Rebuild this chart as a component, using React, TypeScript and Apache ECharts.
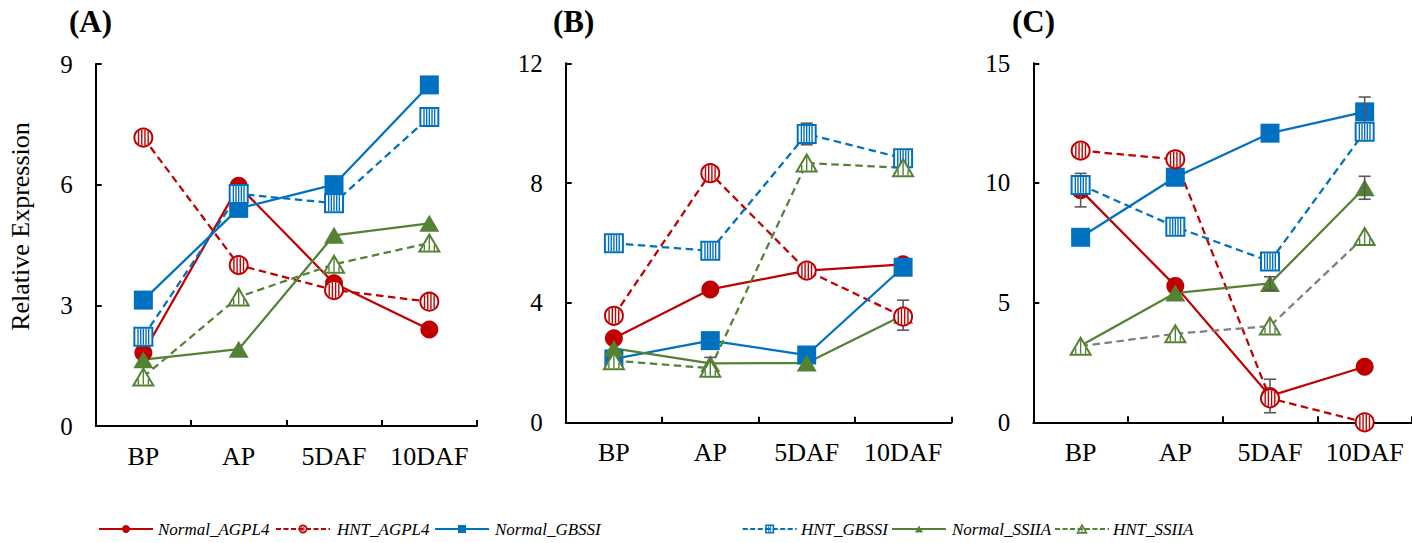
import React, { useEffect, useRef } from "react";
import * as echarts from "echarts";

// ---------- data ----------
const categories = ["BP", "AP", "5DAF", "10DAF"];
const seriesNames = ["Normal_AGPL4", "HNT_AGPL4", "Normal_GBSSI", "HNT_GBSSI", "Normal_SSIIA", "HNT_SSIIA"];
const panelTitles = ["(A)", "(B)", "(C)"];
const yMax = [9, 12, 15];
const yInterval = [3, 4, 5];

// Panel A
const aNormalAGPL4 = [1.82, 5.97, 3.55, 2.4];
const aHntAGPL4 = [7.17, 4.0, 3.38, 3.09];
const aNormalGBSSI = [3.13, 5.41, 6.0, 8.48];
const aHntGBSSI = [2.22, 5.77, 5.54, 7.68];
const aNormalSSIIA = [1.65, 1.91, 4.74, 5.04];
const aHntSSIIA = [1.22, 3.21, 4.02, 4.55];
// Panel B
const bNormalAGPL4 = [2.82, 4.45, 5.08, 5.29];
const bHntAGPL4 = [3.57, 8.33, 5.08, 3.54];
const bNormalGBSSI = [2.13, 2.74, 2.26, 5.19];
const bHntGBSSI = [5.99, 5.74, 9.64, 8.83];
const bNormalSSIIA = [2.48, 1.98, 1.99, 3.59];
const bHntSSIIA = [2.07, 1.82, 8.67, 8.51];
// Panel C
const cNormalAGPL4 = [9.7, 5.7, 1.1, 2.32];
const cHntAGPL4 = [11.35, 10.99, 1.0, 0.0];
const cNormalGBSSI = [7.73, 10.24, 12.08, 12.97];
const cHntGBSSI = [9.92, 8.17, 6.72, 12.14];
const cNormalSSIIA = [3.2, 5.4, 5.8, 9.8];
const cHntSSIIA = [3.18, 3.7, 4.02, 7.76];

// error bars (SD), 0 = not drawn
const zeroErr = [0, 0, 0, 0];
const bNormalSSIIAErr = [0, 0.2, 0, 0.5];
const bHntGBSSIErr = [0, 0, 0.36, 0];
const cNormalAGPL4Err = [0.7, 0, 0.7, 0];
const cNormalGBSSIErr = [0, 0, 0, 0.62];
const cNormalSSIIAErr = [0, 0, 0.28, 0.48];

const panelValues = [
  [aNormalAGPL4, aHntAGPL4, aNormalGBSSI, aHntGBSSI, aNormalSSIIA, aHntSSIIA],
  [bNormalAGPL4, bHntAGPL4, bNormalGBSSI, bHntGBSSI, bNormalSSIIA, bHntSSIIA],
  [cNormalAGPL4, cHntAGPL4, cNormalGBSSI, cHntGBSSI, cNormalSSIIA, cHntSSIIA],
];
const panelErrors = [
  [zeroErr, zeroErr, zeroErr, zeroErr, zeroErr, zeroErr],
  [zeroErr, zeroErr, zeroErr, bHntGBSSIErr, bNormalSSIIAErr, zeroErr],
  [cNormalAGPL4Err, zeroErr, cNormalGBSSIErr, zeroErr, cNormalSSIIAErr, zeroErr],
];

// ---------- styles ----------
const RED = "#C00000";
const BLUE = "#0070C0";
const GREEN = "#548235";
const GRAY = "#7F7F7F";
const seriesColors = [RED, RED, BLUE, BLUE, GREEN, GREEN];
const seriesShapes = ["circle", "circle", "rect", "rect", "triangle", "triangle"];
const seriesHatched = [false, true, false, true, false, true];
const FONT = "'Liberation Serif', 'Times New Roman', serif";

const grids = [
  { left: 95.7, top: 64, width: 381.3, height: 362 },
  { left: 565.7, top: 63.3, width: 385.6, height: 359.4 },
  { left: 1033.3, top: 63.3, width: 386.7, height: 359 },
];
const titlePos = [
  { x: 69, y: 23 },
  { x: 553, y: 23 },
  { x: 1012, y: 23 },
];

function hatchEls(shape: string, s: number, color: string, lw: number, sw: number, n: number) {
  const els: any[] = [];
  if (shape === "circle") {
    const r = s / 2 - lw / 2;
    els.push({ type: "circle", shape: { cx: 0, cy: 0, r }, style: { fill: "#fff", stroke: color, lineWidth: lw } });
    const ri = r - lw / 2;
    const sp = (2 * ri) / (n + 1);
    for (let k = 0; k < n; k++) {
      const dx = -ri + sp * (k + 1);
      const h = Math.sqrt(Math.max(ri * ri - dx * dx, 0));
      els.push({ type: "line", shape: { x1: dx, y1: -h, x2: dx, y2: h }, style: { stroke: color, lineWidth: sw } });
    }
  } else if (shape === "rect") {
    const half = s / 2 - lw / 2;
    els.push({
      type: "rect",
      shape: { x: -half, y: -half, width: 2 * half, height: 2 * half },
      style: { fill: "#fff", stroke: color, lineWidth: lw },
    });
    const hi = half - lw / 2;
    const sp = (2 * hi) / (n + 1);
    for (let k = 0; k < n; k++) {
      const dx = -hi + sp * (k + 1);
      els.push({ type: "line", shape: { x1: dx, y1: -hi, x2: dx, y2: hi }, style: { stroke: color, lineWidth: sw } });
    }
  } else {
    const w = s;
    const h = s * 0.85;
    els.push({
      type: "polygon",
      shape: { points: [[0, -h / 2], [w / 2, h / 2], [-w / 2, h / 2]] },
      style: { fill: "#fff", stroke: color, lineWidth: lw, lineJoin: "miter" },
    });
    const sp = w / 2 / (n + 1);
    for (let k = 0; k < n; k++) {
      const dx = -w / 4 + (n === 1 ? w / 4 : (w / 2 / (n - 1)) * k);
      const dxx = n === 1 ? 0 : dx;
      const top = -h / 2 + (Math.abs(dxx) / (w / 2)) * h + lw;
      const bot = h / 2 - lw / 2;
      if (top < bot) {
        els.push({ type: "line", shape: { x1: dxx, y1: top, x2: dxx, y2: bot }, style: { stroke: color, lineWidth: sw } });
      }
    }
    void sp;
  }
  return els;
}

function filledEls(shape: string, s: number, color: string) {
  if (shape === "circle") return [{ type: "circle", shape: { cx: 0, cy: 0, r: s / 2 }, style: { fill: color } }];
  if (shape === "rect") return [{ type: "rect", shape: { x: -s / 2, y: -s / 2, width: s, height: s }, style: { fill: color } }];
  const h = s * 0.85;
  return [{ type: "polygon", shape: { points: [[0, -h / 2], [s / 2, h / 2], [-s / 2, h / 2]] }, style: { fill: color } }];
}

// legend layout
const legendLineStart = [99, 276, 435, 742.7, 892, 1055];
const legendTextX = [158, 337, 495, 801, 952, 1113];
const LEGEND_Y = 529;

function buildOption() {
  const xAxis: any[] = [];
  const yAxis: any[] = [];
  const series: any[] = [];
  const graphic: any[] = [];

  for (let p = 0; p < 3; p++) {
    xAxis.push({
      type: "category",
      gridIndex: p,
      data: categories,
      boundaryGap: true,
      axisLine: { show: true, lineStyle: { color: "#000", width: 2 } },
      axisTick: { show: true, inside: true, length: 6, alignWithLabel: false, interval: 0, lineStyle: { color: "#000", width: 2 } },
      axisLabel: { color: "#000", fontSize: 26, fontFamily: FONT, margin: 17, interval: 0 },
      splitLine: { show: false },
    });
    yAxis.push({
      type: "value",
      gridIndex: p,
      min: 0,
      max: yMax[p],
      interval: yInterval[p],
      axisLine: { show: true, lineStyle: { color: "#000", width: 2 } },
      axisTick: { show: true, inside: true, length: 6, lineStyle: { color: "#000", width: 2 } },
      axisLabel: { color: "#000", fontSize: 25, fontFamily: FONT, margin: 23 },
      splitLine: { show: false },
    });

    // lines (+ filled markers)
    for (let s = 0; s < 6; s++) {
      const color = seriesColors[s];
      const lineColor = p === 2 && s === 5 ? GRAY : color;
      const hatched = seriesHatched[s];
      const shape = seriesShapes[s];
      series.push({
        type: "line",
        name: seriesNames[s],
        xAxisIndex: p,
        yAxisIndex: p,
        data: panelValues[p][s],
        silent: true,
        z: 2,
        lineStyle: { color: lineColor, width: 2.25, type: hatched ? [7.5, 4.5] : "solid" },
        itemStyle: { color },
        showSymbol: !hatched,
        symbol: hatched ? "none" : shape,
        symbolSize: shape === "circle" ? 18 : shape === "rect" ? 19 : [20, 17],
      });
    }
    // error bars
    for (let s = 0; s < 6; s++) {
      const errs = panelErrors[p][s];
      const vals = panelValues[p][s];
      const data: any[] = [];
      errs.forEach((e, i) => {
        if (e > 0) data.push([i, vals[i], e]);
      });
      if (!data.length) continue;
      series.push({
        type: "custom",
        xAxisIndex: p,
        yAxisIndex: p,
        silent: true,
        z: 3,
        data,
        renderItem: (params: any, api: any) => {
          const i = api.value(0);
          const v = api.value(1);
          const e = api.value(2);
          const top = api.coord([i, v + e]);
          const bot = api.coord([i, v - e]);
          const st = { stroke: "#595959", lineWidth: 1.6 };
          return {
            type: "group",
            children: [
              { type: "line", shape: { x1: top[0], y1: top[1], x2: bot[0], y2: bot[1] }, style: st },
              { type: "line", shape: { x1: top[0] - 6, y1: top[1], x2: top[0] + 6, y2: top[1] }, style: st },
              { type: "line", shape: { x1: bot[0] - 6, y1: bot[1], x2: bot[0] + 6, y2: bot[1] }, style: st },
            ],
          };
        },
      });
    }
    // hatched markers
    for (let s = 0; s < 6; s++) {
      if (!seriesHatched[s]) continue;
      const color = seriesColors[s];
      const shape = seriesShapes[s];
      series.push({
        type: "custom",
        xAxisIndex: p,
        yAxisIndex: p,
        silent: true,
        z: 4,
        data: panelValues[p][s].map((v, i) => [i, v]),
        renderItem: (params: any, api: any) => {
          const pt = api.coord([api.value(0), api.value(1)]);
          const n = shape === "circle" ? 4 : shape === "rect" ? 5 : 3;
          const size = shape === "triangle" ? 20 : 20;
          return {
            type: "group",
            x: pt[0],
            y: pt[1],
            children: hatchEls(shape, size, color, 2, 1.4, n),
          };
        },
      });
    }

    graphic.push({
      type: "text",
      left: titlePos[p].x,
      top: titlePos[p].y - 17,
      style: { text: panelTitles[p], fontSize: 31, fontWeight: "bold", fontFamily: FONT, fill: "#000" },
    });
  }

  // y-axis title
  graphic.push({
    type: "text",
    x: 20,
    y: 226.5,
    rotation: Math.PI / 2,
    style: {
      text: "Relative Expression",
      fontSize: 26,
      fontFamily: FONT,
      fill: "#000",
      align: "center",
      verticalAlign: "middle",
    },
  });

  // legend
  for (let s = 0; s < 6; s++) {
    const color = seriesColors[s];
    const hatched = seriesHatched[s];
    const shape = seriesShapes[s];
    const x0 = legendLineStart[s];
    const x1 = x0 + 54;
    const cx = (x0 + x1) / 2;
    graphic.push({
      type: "line",
      shape: { x1: x0, y1: LEGEND_Y, x2: x1, y2: LEGEND_Y },
      style: { stroke: color, lineWidth: 2, lineDash: hatched ? [5, 2.5] : null },
      z: 10,
    });
    graphic.push({
      type: "group",
      x: cx,
      y: LEGEND_Y,
      z: 11,
      children: hatched ? hatchEls(shape, 9, color, 1.6, 1, shape === "triangle" ? 1 : 2) : filledEls(shape, shape === "rect" ? 8 : 8, color),
    });
    graphic.push({
      type: "text",
      x: legendTextX[s],
      y: LEGEND_Y,
      z: 11,
      style: {
        text: seriesNames[s],
        fontSize: 17,
        fontStyle: "italic",
        fontFamily: FONT,
        fill: "#000",
        verticalAlign: "middle",
      },
    });
  }

  return {
    animation: false,
    backgroundColor: "#fff",
    grid: grids.map((g) => ({ ...g, containLabel: false })),
    xAxis,
    yAxis,
    series,
    graphic,
  };
}

export default function App() {
  const ref = useRef<HTMLDivElement>(null);
  useEffect(() => {
    if (!ref.current) return;
    const chart = echarts.init(ref.current, undefined, { renderer: "svg" });
    chart.setOption(buildOption() as any);
    return () => chart.dispose();
  }, []);
  return (
    <div
      ref={ref}
      style={{ position: "absolute", left: 0, top: 0, width: 1412, height: 543, background: "#fff" }}
    />
  );
}
